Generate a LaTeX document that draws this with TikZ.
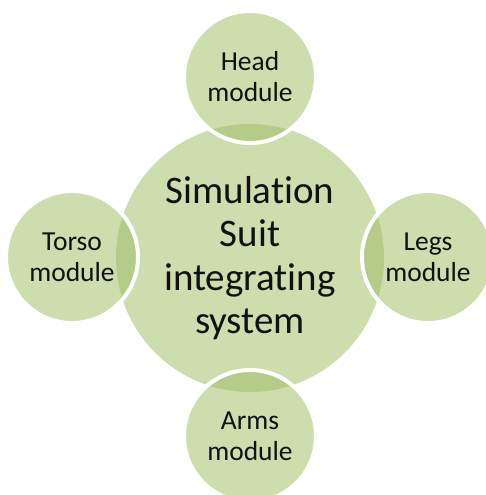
\documentclass[tikz,border=0pt]{standalone}
\usepackage{fontspec}
\setmainfont{Carlito}[Ligatures=NoCommon]
\definecolor{lightg}{HTML}{CEDDAD}
\definecolor{darkg}{HTML}{B5CC88}
\definecolor{txt}{HTML}{111111}
\pgfdeclarelayer{back}
\pgfsetlayers{back,main}
\begin{document}
\begin{tikzpicture}[x=1pt,y=-1pt,
  hubnode/.style={circle, minimum size=268pt, inner sep=0pt, align=center,
    text=txt, font=\fontsize{39}{43.5}\selectfont},
  modnode/.style={circle, minimum size=132pt, inner sep=0pt, align=center,
    text=txt, draw=white, line width=4pt, font=\fontsize{27.5}{31}\selectfont}]
\useasboundingbox (0,0) rectangle (485,495);
\node[hubnode] (hub) at (250,258) {Simulation\\Suit\\integrating\\system};
\node[modnode] (head) at (250,77) {Head\\module};
\node[modnode] (torso) at (72,257) {Torso\\module};
\node[modnode] (legs) at (428,257) {Legs\\module};
\node[modnode] (arms) at (250,436) {Arms\\module};
\begin{pgfonlayer}{back}
\fill[lightg] (hub.center) circle (134pt);
\foreach \m in {head,torso,legs,arms}{
  \fill[lightg] (\m.center) circle (66pt);
  \begin{scope}
    \clip (\m.center) circle (66pt);
    \fill[darkg] (hub.center) circle (134pt);
  \end{scope}
}
\end{pgfonlayer}
\end{tikzpicture}
\end{document}
